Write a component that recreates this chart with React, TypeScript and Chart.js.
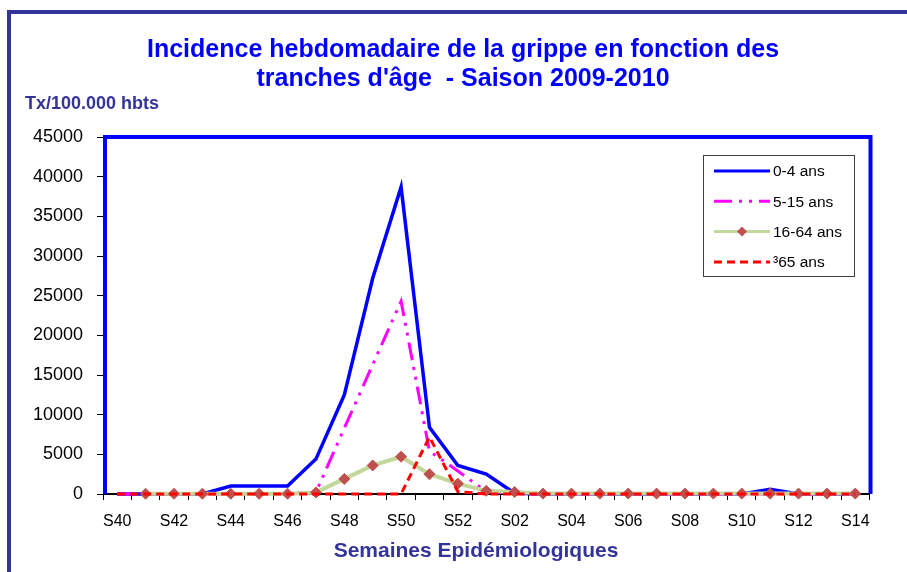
import { useEffect, useRef } from 'react';
import { Chart, registerables } from 'chart.js';

Chart.register(...registerables);

const weeks = [
  'S40', 'S41', 'S42', 'S43', 'S44', 'S45', 'S46', 'S47', 'S48', 'S49', 'S50', 'S51', 'S52',
  'S01', 'S02', 'S03', 'S04', 'S05', 'S06', 'S07', 'S08', 'S09', 'S10', 'S11', 'S12', 'S13', 'S14',
];

const age0to4 = [0, 0, 0, 0, 1000, 1000, 1000, 4400, 12500, 27200, 38700, 8400, 3600, 2500, 100, 0, 0, 0, 0, 0, 0, 0, 0, 600, 0, 0, 0];
const age5to15 = [0, 0, 0, 0, 0, 0, 100, 200, 8300, 16300, 24300, 5400, 2900, 300, 100, 0, 0, 0, 0, 0, 0, 0, 0, 0, 0, 0, 0];
const age16to64 = [null, 30, 30, 30, 30, 30, 30, 200, 1900, 3600, 4700, 2500, 1300, 400, 250, 50, 50, 50, 50, 50, 50, 50, 50, 50, 50, 50, 50];
const age65plus = [0, 0, 0, 0, 0, 0, 0, 0, 0, 0, 0, 7200, 300, 0, 0, 0, 0, 0, 0, 0, 0, 0, 0, 0, 0, 0, 0];

const seriesNames = ['0-4 ans', '5-15 ans', '16-64 ans', '\u00B365 ans'];
const titleLines = ['Incidence hebdomadaire de la grippe en fonction des', "tranches d'\u00E2ge  - Saison 2009-2010"];
const yAxisLabel = 'Tx/100.000 hbts';
const xAxisLabel = 'Semaines Epid\u00E9miologiques';

const FONT = '"Liberation Sans", Arial, sans-serif';

const decorPlugin = {
  id: 'decor',
  beforeDraw(chart: any) {
    const ctx = chart.ctx;
    ctx.save();
    ctx.fillStyle = '#ffffff';
    ctx.fillRect(0, 0, chart.width, chart.height);
    // outer frame
    ctx.fillStyle = '#333399';
    ctx.fillRect(7, 10, chart.width - 7, 4);
    ctx.fillRect(7, 10, 4, chart.height - 10);
    // title
    ctx.fillStyle = '#0000FF';
    ctx.font = `bold 25px ${FONT}`;
    ctx.textAlign = 'center';
    ctx.textBaseline = 'middle';
    ctx.fillText(titleLines[0], 463, 50);
    ctx.fillText(titleLines[1], 463, 79);
    // y label
    ctx.fillStyle = '#333399';
    ctx.font = `bold 18px ${FONT}`;
    ctx.textAlign = 'left';
    ctx.fillText(yAxisLabel, 25, 104);
    // x label
    ctx.font = `bold 21px ${FONT}`;
    ctx.textAlign = 'center';
    ctx.fillText(xAxisLabel, 476, 551);
    ctx.restore();
  },
  beforeDatasetsDraw(chart: any) {
    const ctx = chart.ctx;
    const a = chart.chartArea;
    ctx.save();
    ctx.strokeStyle = '#000000';
    ctx.lineWidth = 2;
    ctx.beginPath();
    ctx.moveTo(a.left, a.bottom);
    ctx.lineTo(a.right, a.bottom);
    ctx.stroke();
    ctx.strokeStyle = '#0000FF';
    ctx.lineWidth = 4;
    ctx.beginPath();
    ctx.moveTo(a.left + 2, a.bottom);
    ctx.lineTo(a.left + 2, a.top);
    ctx.lineTo(a.right + 1, a.top);
    ctx.lineTo(a.right + 1, a.bottom);
    ctx.stroke();
    ctx.restore();
  },
  afterDraw(chart: any) {
    const ctx = chart.ctx;
    ctx.save();
    const bx = 703.5, by = 155.5, bw = 151, bh = 121;
    ctx.fillStyle = '#ffffff';
    ctx.fillRect(bx, by, bw, bh);
    ctx.strokeStyle = '#404040';
    ctx.lineWidth = 1;
    ctx.strokeRect(bx, by, bw, bh);
    const dsets = chart.data.datasets;
    seriesNames.forEach((name: string, i: number) => {
      const y = 171 + i * 30.3;
      const ds = dsets[i];
      ctx.save();
      ctx.strokeStyle = ds.borderColor;
      ctx.lineWidth = Math.min(ds.borderWidth, 3);
      ctx.setLineDash(ds.borderDash || []);
      ctx.beginPath();
      ctx.moveTo(714, y);
      ctx.lineTo(770, y);
      ctx.stroke();
      ctx.restore();
      if (ds.pointRadius > 0) {
        ctx.fillStyle = ds.pointBackgroundColor;
        ctx.beginPath();
        ctx.moveTo(742, y - 5);
        ctx.lineTo(747, y);
        ctx.lineTo(742, y + 5);
        ctx.lineTo(737, y);
        ctx.closePath();
        ctx.fill();
      }
      ctx.fillStyle = '#000000';
      ctx.font = `15.5px ${FONT}`;
      ctx.textAlign = 'left';
      ctx.textBaseline = 'middle';
      ctx.fillText(name, 773, y + 1);
    });
    ctx.restore();
  },
};

export default function App() {
  const ref = useRef<HTMLCanvasElement>(null);
  useEffect(() => {
    const chart = new Chart(ref.current as HTMLCanvasElement, {
      type: 'line',
      data: {
        labels: weeks,
        datasets: [
          {
            label: seriesNames[0],
            data: age0to4,
            borderColor: '#0000FF',
            backgroundColor: '#0000FF',
            borderWidth: 3.5,
            pointRadius: 0,
            tension: 0,
            clip: false,
            order: 4,
          } as any,
          {
            label: seriesNames[1],
            data: age5to15,
            borderColor: '#FF00FF',
            backgroundColor: '#FF00FF',
            borderWidth: 3,
            borderDash: [18, 7, 3, 7, 3, 7],
            pointRadius: 0,
            tension: 0,
            clip: false,
            order: 3,
          },
          {
            label: seriesNames[2],
            data: age16to64,
            borderColor: '#C3D69B',
            backgroundColor: '#C3D69B',
            borderWidth: 4,
            pointStyle: 'rectRot',
            pointRadius: 5.5,
            pointBackgroundColor: '#C0504D',
            pointBorderColor: '#C0504D',
            pointBorderWidth: 1,
            tension: 0,
            clip: false,
            order: 2,
          },
          {
            label: seriesNames[3],
            data: age65plus,
            borderColor: '#FF0000',
            backgroundColor: '#FF0000',
            borderWidth: 3,
            borderDash: [8, 5],
            pointRadius: 0,
            tension: 0,
            clip: false,
            order: 1,
          },
        ],
      },
      options: {
        responsive: false,
        animation: false,
        layout: { padding: { top: 137, right: 37.5, left: 0, bottom: 0 } },
        plugins: {
          legend: { display: false },
          tooltip: { enabled: false },
          title: { display: false },
        },
        scales: {
          x: {
            offset: true,
            border: { display: false },
            grid: { offset: true, drawOnChartArea: false, drawTicks: true, tickLength: 6, color: '#000000', lineWidth: 1 },
            ticks: {
              autoSkip: false,
              maxRotation: 0,
              minRotation: 0,
              padding: 12,
              color: '#000000',
              font: { family: FONT, size: 16 },
              callback: (_v: any, i: number) => (i % 2 === 0 ? weeks[i] : ''),
            },
            afterFit: (s: any) => {
              s.height = 78;
            },
          },
          y: {
            min: 0,
            max: 45000,
            border: { display: false },
            grid: { drawOnChartArea: false, drawTicks: true, tickLength: 6, color: '#000000', lineWidth: 1 },
            ticks: {
              stepSize: 5000,
              padding: 14,
              color: '#000000',
              font: { family: FONT, size: 18 },
              callback: (v: any) => String(v),
            },
            afterFit: (s: any) => {
              s.width = 103;
            },
          },
        },
      },
      plugins: [decorPlugin],
    });
    return () => chart.destroy();
  }, []);
  return (
    <div style={{ position: 'absolute', left: 0, top: 0, width: 907, height: 572 }}>
      <canvas ref={ref} width={907} height={572} style={{ width: 907, height: 572, display: 'block' }} />
    </div>
  );
}
